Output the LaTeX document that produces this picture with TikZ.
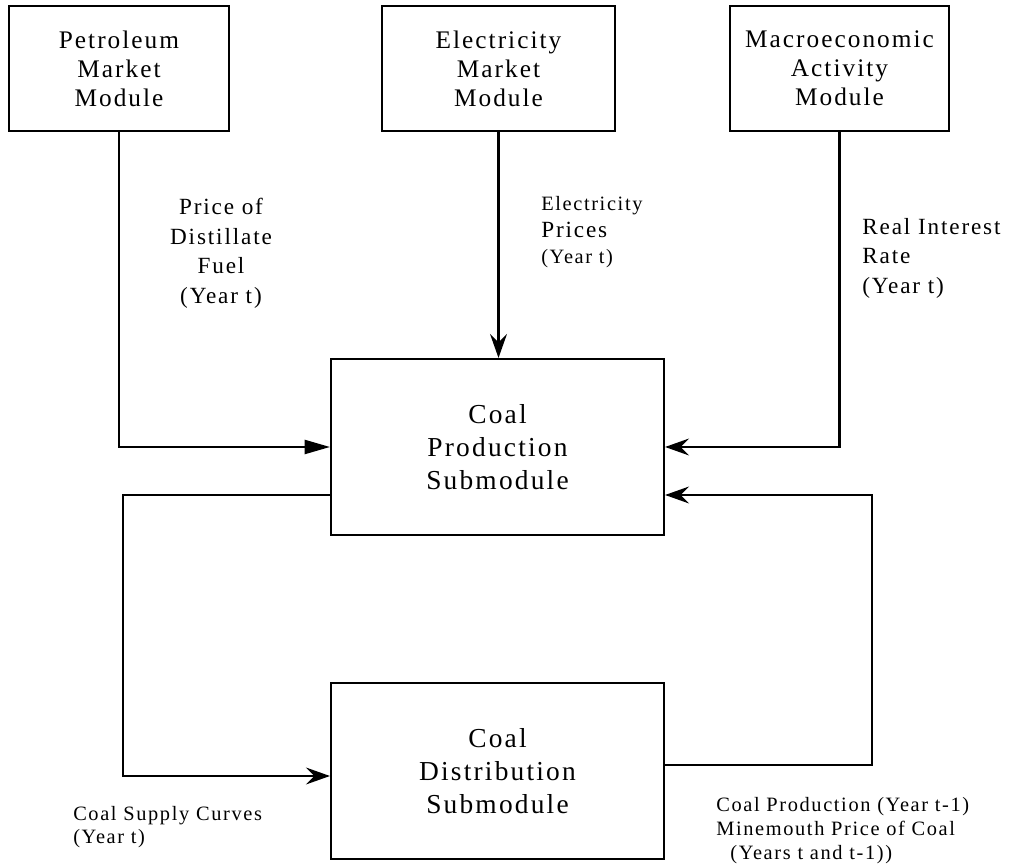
\documentclass[tikz,border=0pt]{standalone}
\usepackage{fontspec}
\setmainfont{Liberation Serif}[LetterSpace=8]
\usetikzlibrary{arrows.meta, calc, positioning}
\newcommand{\modfont}{\fontsize{18}{20.6}\selectfont}
\newcommand{\subfont}{\fontsize{19.5}{23.5}\selectfont}
\newcommand{\lblfont}{\fontsize{16.5}{21}\selectfont}
\newcommand{\smlfont}{\fontsize{14.5}{16.5}\selectfont}
\tikzset{
  >={Stealth[length=17pt,width=12pt,inset=6pt]},
  module/.style={
    draw,line width=1.5pt,font=\modfont,align=center,inner sep=0pt,
    minimum height=3.125cm
  },
  submod/.style={
    draw,line width=1.5pt,font=\subfont,align=center,inner sep=0pt,
    minimum width=8.325cm,minimum height=4.4cm
  },
  flow/.style={draw,->,line width=1.5pt},
  flowtri/.style={draw,-{Triangle[length=18pt,width=10pt]},line width=1.5pt},
  flowlbl/.style={font=\lblfont,inner sep=0pt}, %flow label
}

\begin{document}
\begin{tikzpicture}
  \useasboundingbox (0,0) rectangle (25.5,21.65);

  % Modules
  \node[module,minimum width=5.5cm] at (2.975,19.9375) (pmm){Petroleum\\Market\\Module};
  \node[module,minimum width=5.825cm] at (12.4625,19.9375) (emm){Electricity\\Market\\Module};
  \node[module,minimum width=5.475cm] at (20.9875,19.9375) (mam){Macroeconomic\\Activity\\Module};

  % Submodules
  \node[submod] at (12.4375,10.475) (cps){Coal\\Production\\Submodule};
  \node[submod] at (12.4375,2.375) (cds){Coal\\Distribution\\Submodule};

  % Inputs
  \draw[flowtri] (pmm.south) |- (cps.west);
  \draw[flow] (emm.south) -- (emm.south |- cps.north);
  \draw[flow] (mam.south) |- (cps.east);

  % Loop
  \draw[flow] ($(cps.west)+(0,-1.2)$) -- ++(-5.175,0) |- ($(cds.west)+(0,-0.125)$);
  \draw[flow] ($(cds.east)+(0,0.15)$) -- ++(5.175,0) |- ($(cps.east)+(0,-1.2)$);

  % Labels
  \node[flowlbl,align=center,anchor=north] at (5.525,16.7) (pdf){Price of\\Distillate\\Fuel\\(Year t)};
  \node[flowlbl,align=left,anchor=north west,font=\fontsize{16.5}{19}\selectfont] at (13.525,16.75) (ep)
    {{\smlfont Electricity}\\Prices\\{\smlfont (Year t)}};
  \node[flowlbl,align=left,anchor=north west] at (21.55,16.2) (rir){Real Interest\\Rate\\(Year t)};
  \node[flowlbl,font=\smlfont,align=left,anchor=north west] at (1.825,1.5) (csc){Coal Supply Curves\\(Year t)};
  \node[flowlbl,align=left,anchor=north west,font=\fontsize{14.5}{17}\selectfont] at (17.9,1.725) (cpm)
    {Coal Production (Year t-1)\\Minemouth Price of Coal\\\hspace{10pt}(Years t and t-1))};
\end{tikzpicture}
\end{document}
